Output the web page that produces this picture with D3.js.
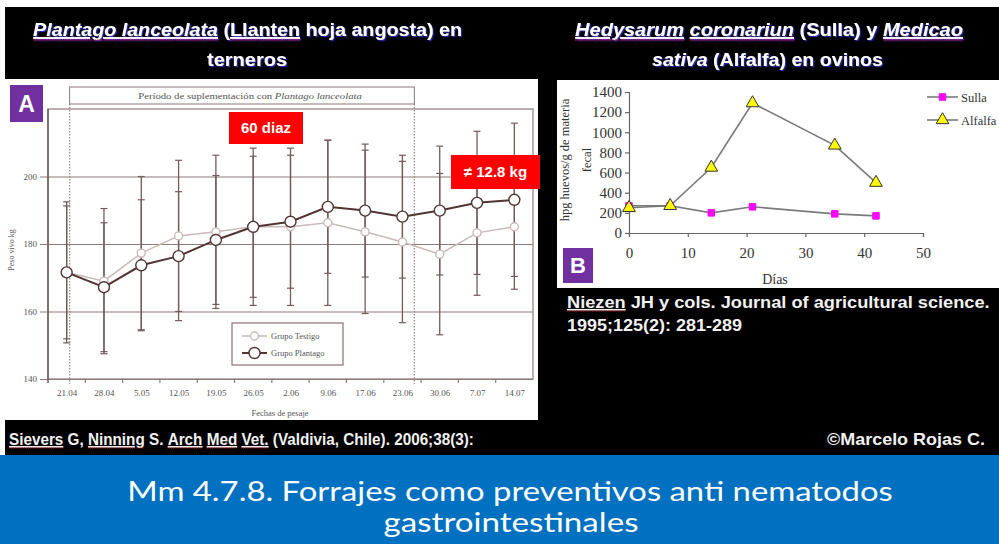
<!DOCTYPE html>
<html>
<head>
<meta charset="utf-8">
<script src="https://cdn.jsdelivr.net/npm/d3@7"></script>
<style>
  body { margin: 0; background: #fff; }
  svg { display: block; }
</style>
</head>
<body>
<svg id="c" width="999" height="544"></svg>
<script>
// ---------- Panel A: peso vivo de terneros (kg) por fecha de pesaje ----------
const fechas = ["21.04","28.04","5.05","12.05","19.05","26.05","2.06","9.06","17.06","23.06","30.06","7.07","14.07"];
const plantagoMedia = [171.6, 167.2, 173.7, 176.4, 181.2, 185.1, 186.6, 191.0, 189.9, 188.1, 189.9, 192.2, 193.1];
const plantagoDE    = [20.9, 19.1, 19.4, 19.1, 19.1, 20.9, 19.7, 19.7, 19.7, 18.2, 19.1, 21.2, 22.7];
const testigoMedia  = [171.6, 169.0, 177.3, 182.4, 183.6, 185.1, 185.1, 186.3, 183.6, 180.6, 177.0, 183.3, 185.1];
const testigoDE     = [19.7, 21.5, 22.7, 22.4, 22.7, 23.3, 23.3, 24.5, 24.2, 23.9, 23.9, 18.5, 18.5];
const pesoTicks = [140, 160, 180, 200];
// supplementation period, in weighing-date index units
const periodo = [0.08, 9.32];

// ---------- Panel B: hpg en ovinos por días ----------
const dias    = [0, 7, 14, 21, 35, 42];
const sulla   = [270, 270, 200, 260, 190, 170];
const alfalfa = [250, 270, 650, 1290, 870, 500];
const hpgTicks  = [0, 200, 400, 600, 800, 1000, 1200, 1400];
const diasTicks = [0, 10, 20, 30, 40, 50];

const SANS = "'Liberation Sans', Arial, sans-serif";
const SERIF = "'Liberation Serif', 'Times New Roman', serif";

const svg = d3.select("#c");
const defs = svg.append("defs");
defs.append("filter").attr("id", "sombra")
  .attr("x", "-5%").attr("y", "-30%").attr("width", "110%").attr("height", "160%")
  .append("feDropShadow")
  .attr("dx", 1.2).attr("dy", 1.2).attr("stdDeviation", 0.7)
  .attr("flood-color", "#2b2bb0").attr("flood-opacity", 1);

// slide background
svg.append("rect").attr("width", 999).attr("height", 544).attr("fill", "#fff");
svg.append("rect").attr("x", 5).attr("y", 7).attr("width", 994).attr("height", 449).attr("fill", "#000");
svg.append("rect").attr("x", 0).attr("y", 455).attr("width", 999).attr("height", 89).attr("fill", "#0070c0");

// text built from segments, squeezed horizontally to a given width;
// optional red dotted spell-check marks under some words
function richText(parent, x, y, segments, o) {
  const g = parent.append("g");
  const t = g.append("text").attr("x", 0).attr("y", 0)
    .attr("text-anchor", o.anchor || "start")
    .attr("font-family", o.family || SANS)
    .attr("font-size", o.size)
    .attr("font-weight", o.weight || "normal")
    .attr("fill", o.fill || "#fff");
  if (o.filter) g.attr("filter", o.filter);
  let idx = 0;
  const marks = [];
  segments.forEach(s => {
    const seg = typeof s === "string" ? { t: s } : s;
    const ts = t.append("tspan").text(seg.t);
    if (seg.i) ts.attr("font-style", "italic");
    if (seg.u) ts.attr("text-decoration", "underline");
    if (seg.sp) marks.push([idx, idx + seg.t.length - 1]);
    idx += seg.t.length;
  });
  const node = t.node();
  marks.forEach(([a, b]) => {
    const ea = node.getExtentOfChar(a), eb = node.getExtentOfChar(b);
    g.append("line")
      .attr("x1", ea.x).attr("x2", eb.x + eb.width)
      .attr("y1", o.spOff || 3).attr("y2", o.spOff || 3)
      .attr("stroke", "#e01010").attr("stroke-width", 1).attr("stroke-dasharray", "1,1");
  });
  const sx = o.width ? o.width / node.getComputedTextLength() : 1;
  g.attr("transform", `translate(${x},${y}) scale(${sx},1)`);
  return g;
}

// ---------- headings ----------
const head = svg.append("g");
const hOpt = { anchor: "middle", size: 19, weight: "bold", filter: "url(#sombra)", spOff: 4 };
richText(head, 247.5, 36, [
  { t: "Plantago lanceolata", i: true, u: true, sp: true }, " (",
  { t: "Llanten", u: true, sp: true }, " hoja angosta) en"
], { ...hOpt, width: 429 });
richText(head, 247, 66, ["terneros"], { ...hOpt, width: 80 });
richText(head, 769, 36, [
  { t: "Hedysarum", i: true, u: true, sp: true }, " ",
  { t: "coronariun", i: true, u: true, sp: true }, " (Sulla) y ",
  { t: "Medicao", i: true, u: true, sp: true }
], { ...hOpt, width: 388 });
richText(head, 767.5, 66, [{ t: "sativa", i: true }, " (Alfalfa) en ovinos"], { ...hOpt, width: 231 });

// ---------- Panel A ----------
const gA = svg.append("g");
gA.append("rect").attr("x", 0).attr("y", 79).attr("width", 538).attr("height", 341).attr("fill", "#fff");

const xA = d3.scalePoint().domain(fechas).range([48, 533]).padding(0.5);
const yA = d3.scaleLinear().domain([140, 220]).range([379, 109]);
const iA = d3.scaleLinear().domain([0, fechas.length - 1])
  .range([xA(fechas[0]), xA(fechas[fechas.length - 1])]);
const marco = "#8f7a7a";

// y gridlines + labels
const axY = gA.append("g").attr("transform", "translate(48,0)")
  .call(d3.axisLeft(yA).tickValues(pesoTicks).tickSize(-485).tickPadding(11));
axY.select(".domain").remove();
axY.selectAll(".tick line").attr("x1", -8).attr("stroke", marco).attr("stroke-width", 1.2);
axY.selectAll(".tick text").attr("font-family", SERIF).attr("font-size", 9).attr("fill", "#555");

// frame
gA.append("rect").attr("x", 48).attr("y", yA(220))
  .attr("width", 485).attr("height", yA(140) - yA(220))
  .attr("fill", "none").attr("stroke", marco).attr("stroke-width", 1.2);
gA.append("line").attr("x1", 48).attr("x2", 48).attr("y1", yA(220)).attr("y2", yA(140) + 4)
  .attr("stroke", "#6e5a5a").attr("stroke-width", 1.5);

// x axis labels
const axX = gA.append("g").attr("transform", `translate(0,${yA(140)})`)
  .call(d3.axisBottom(xA).tickSize(0).tickPadding(11));
axX.select(".domain").remove();
axX.selectAll(".tick text").attr("font-family", SERIF).attr("font-size", 9).attr("fill", "#555");
// small ticks between weighing dates
gA.append("g").selectAll("line").data(d3.range(fechas.length - 1)).join("line")
  .attr("x1", d => iA(d + 0.5)).attr("x2", d => iA(d + 0.5))
  .attr("y1", yA(140)).attr("y2", yA(140) + 4)
  .attr("stroke", marco).attr("stroke-width", 1.2);

// supplementation period
gA.selectAll("line.per").data(periodo).join("line").attr("class", "per")
  .attr("x1", d => iA(d)).attr("x2", d => iA(d))
  .attr("y1", 104).attr("y2", yA(140) + 5)
  .attr("stroke", "#9a8a8a").attr("stroke-width", 1.2).attr("stroke-dasharray", "1.5,1.5");
gA.append("rect").attr("x", iA(periodo[0])).attr("y", 87)
  .attr("width", iA(periodo[1]) - iA(periodo[0])).attr("height", 17)
  .attr("fill", "#fff").attr("stroke", "#8a7a7a").attr("stroke-width", 1);
richText(gA, 250, 99, ["Período de suplementación con ", { t: "Plantago lanceolata", i: true }],
  { anchor: "middle", family: SERIF, size: 8, fill: "#555", width: 224 });

// groups
const grupos = [
  { nombre: "Grupo Testigo", media: testigoMedia, de: testigoDE, color: "#c9b9b9", r: 4, w: 1.5 },
  { nombre: "Grupo Plantago", media: plantagoMedia, de: plantagoDE, color: "#513434", r: 5.5, w: 2 }
];
const barra = "#725c5c";
grupos.forEach(gr => {
  const eb = gA.append("g");
  fechas.forEach((f, i) => {
    const x = xA(f), lo = yA(gr.media[i] - gr.de[i]), hi = yA(gr.media[i] + gr.de[i]);
    eb.append("line").attr("x1", x).attr("x2", x).attr("y1", hi).attr("y2", lo)
      .attr("stroke", barra).attr("stroke-width", 1.3);
    [hi, lo].forEach(yy => eb.append("line")
      .attr("x1", x - 3.5).attr("x2", x + 3.5).attr("y1", yy).attr("y2", yy)
      .attr("stroke", barra).attr("stroke-width", 1.2));
  });
});
grupos.forEach(gr => {
  gA.append("path").datum(gr.media)
    .attr("d", d3.line().x((d, i) => xA(fechas[i])).y(d => yA(d)))
    .attr("fill", "none").attr("stroke", gr.color).attr("stroke-width", gr.w);
  gA.append("g").selectAll("circle").data(gr.media).join("circle")
    .attr("cx", (d, i) => xA(fechas[i])).attr("cy", d => yA(d)).attr("r", gr.r)
    .attr("fill", "#fff").attr("stroke", gr.color).attr("stroke-width", 1.4);
});

// legend A
const lgA = gA.append("g");
lgA.append("rect").attr("x", 232).attr("y", 323).attr("width", 111).attr("height", 42)
  .attr("fill", "#fff").attr("stroke", "#8a7070").attr("stroke-width", 1.2);
grupos.forEach((gr, k) => {
  const yy = 336 + k * 17;
  lgA.append("line").attr("x1", 242).attr("x2", 267).attr("y1", yy).attr("y2", yy)
    .attr("stroke", gr.color).attr("stroke-width", gr.w);
  lgA.append("circle").attr("cx", 254.5).attr("cy", yy).attr("r", gr.r)
    .attr("fill", "#fff").attr("stroke", gr.color).attr("stroke-width", 1.4);
  lgA.append("text").attr("x", 271).attr("y", yy + 3).text(gr.nombre)
    .attr("font-family", SERIF).attr("font-size", 8.5).attr("fill", "#555");
});

// axis titles A
gA.append("text").attr("transform", "translate(14,250) rotate(-90)")
  .attr("text-anchor", "middle").attr("font-family", SERIF).attr("font-size", 8)
  .attr("fill", "#555").text("Peso vivo kg");
gA.append("text").attr("x", 280).attr("y", 416).attr("text-anchor", "middle")
  .attr("font-family", SERIF).attr("font-size", 8.5).attr("fill", "#555").text("Fechas de pesaje");

// callouts
function etiqueta(g, x, y, w, h, txt, fill, size) {
  g.append("rect").attr("x", x).attr("y", y).attr("width", w).attr("height", h).attr("fill", fill);
  g.append("text").attr("x", x + w / 2).attr("y", y + h / 2 + size * 0.36)
    .attr("text-anchor", "middle").attr("font-family", SANS).attr("font-weight", "bold")
    .attr("font-size", size).attr("fill", "#fff").text(txt);
}
etiqueta(svg, 229, 112, 74, 32, "60 diaz", "#ff0000", 15);
etiqueta(svg, 451, 155, 89, 34, "\u2260 12.8 kg", "#ff0000", 15);
etiqueta(svg, 10, 85, 33, 37, "A", "#7030a0", 23);

// ---------- Panel B ----------
const gB = svg.append("g");
gB.append("rect").attr("x", 557).attr("y", 80).attr("width", 442).attr("height", 208).attr("fill", "#fff");
const xB = d3.scaleLinear().domain([0, 50]).range([629, 923]);
const yB = d3.scaleLinear().domain([0, 1400]).range([233, 92]);

const axYB = gB.append("g").attr("transform", "translate(629,0)")
  .call(d3.axisLeft(yB).tickValues(hpgTicks).tickFormat(d3.format("d")).tickSize(4).tickPadding(3));
const axXB = gB.append("g").attr("transform", "translate(0,233)")
  .call(d3.axisBottom(xB).tickValues(diasTicks).tickFormat(d3.format("d")).tickSize(4).tickPadding(10));
[axYB, axXB].forEach(a => {
  a.selectAll(".domain, .tick line").attr("stroke", "#666").attr("stroke-width", 1.2);
  a.selectAll(".tick text").attr("font-family", SERIF).attr("font-size", 15).attr("fill", "#333");
});

gB.append("text").attr("transform", "translate(569,160) rotate(-90)")
  .attr("text-anchor", "middle").attr("font-family", SERIF).attr("font-size", 12.5)
  .attr("fill", "#333").text("hpg huevos/g de materia");
gB.append("text").attr("transform", "translate(591,160) rotate(-90)")
  .attr("text-anchor", "middle").attr("font-family", SERIF).attr("font-size", 12.5)
  .attr("fill", "#333").text("fecal");
gB.append("text").attr("x", 775).attr("y", 284).attr("text-anchor", "middle")
  .attr("font-family", SERIF).attr("font-size", 14).attr("fill", "#333").text("Días");

const series = [
  { nombre: "Sulla", vals: sulla, tipo: d3.symbolSquare, size: 42, fill: "#ff00ff", stroke: "#ff00ff" },
  { nombre: "Alfalfa", vals: alfalfa, tipo: d3.symbolTriangle, size: 70, fill: "#ffff00", stroke: "#333" }
];
series.forEach(s => {
  gB.append("path").datum(s.vals)
    .attr("d", d3.line().x((d, i) => xB(dias[i])).y(d => yB(d)))
    .attr("fill", "none").attr("stroke", "#7a7a7a").attr("stroke-width", 1.6);
});
series.forEach(s => {
  gB.append("g").selectAll("path").data(s.vals).join("path")
    .attr("transform", (d, i) => `translate(${xB(dias[i])},${yB(d)})`)
    .attr("d", d3.symbol().type(s.tipo).size(s.size))
    .attr("fill", s.fill).attr("stroke", s.stroke).attr("stroke-width", 1);
});
// legend B
series.forEach((s, k) => {
  const yy = 97 + k * 23;
  gB.append("line").attr("x1", 927).attr("x2", 958).attr("y1", yy).attr("y2", yy)
    .attr("stroke", "#7a7a7a").attr("stroke-width", 1.6);
  gB.append("path").attr("transform", `translate(942.5,${yy})`)
    .attr("d", d3.symbol().type(s.tipo).size(s.size))
    .attr("fill", s.fill).attr("stroke", s.stroke).attr("stroke-width", 1);
  gB.append("text").attr("x", 961).attr("y", yy + 4.5).text(s.nombre)
    .attr("font-family", SERIF).attr("font-size", 12.5).attr("fill", "#333");
});
etiqueta(svg, 563, 248, 30, 35, "B", "#7030a0", 22);

// ---------- references ----------
const refs = svg.append("g");
richText(refs, 567, 308, [{ t: "Niezen", u: true, sp: true }, " JH y cols. Journal of agricultural science."],
  { size: 16, weight: "bold", fill: "#f2f2f2", width: 423, spOff: 3 });
richText(refs, 567, 331, ["1995;125(2): 281-289"], { size: 16, weight: "bold", fill: "#f2f2f2", width: 175 });
richText(refs, 9, 445, [
  { t: "Sievers", u: true, sp: true }, " G, ",
  { t: "Ninning", u: true, sp: true }, " S. ",
  { t: "Arch", u: true, sp: true }, " ",
  { t: "Med", u: true, sp: true }, " ",
  { t: "Vet.", u: true, sp: true }, " (Valdivia, Chile). 2006;38(3):"
], { size: 16, weight: "bold", fill: "#f2f2f2", width: 465, spOff: 3 });
richText(refs, 827, 445, ["\u00A9Marcelo Rojas C."], { size: 16, weight: "bold", fill: "#f2f2f2", width: 158 });

// ---------- slide title ----------
const LATO = "Lato, 'Open Sans', sans-serif";
richText(svg, 510, 501, ["Mm 4.7.8. Forrajes como preventivos anti nematodos"],
  { anchor: "middle", family: LATO, size: 27, fill: "#fff", width: 766 });
richText(svg, 511, 532, ["gastrointestinales"],
  { anchor: "middle", family: LATO, size: 27, fill: "#fff", width: 255 });
</script>
</body>
</html>
